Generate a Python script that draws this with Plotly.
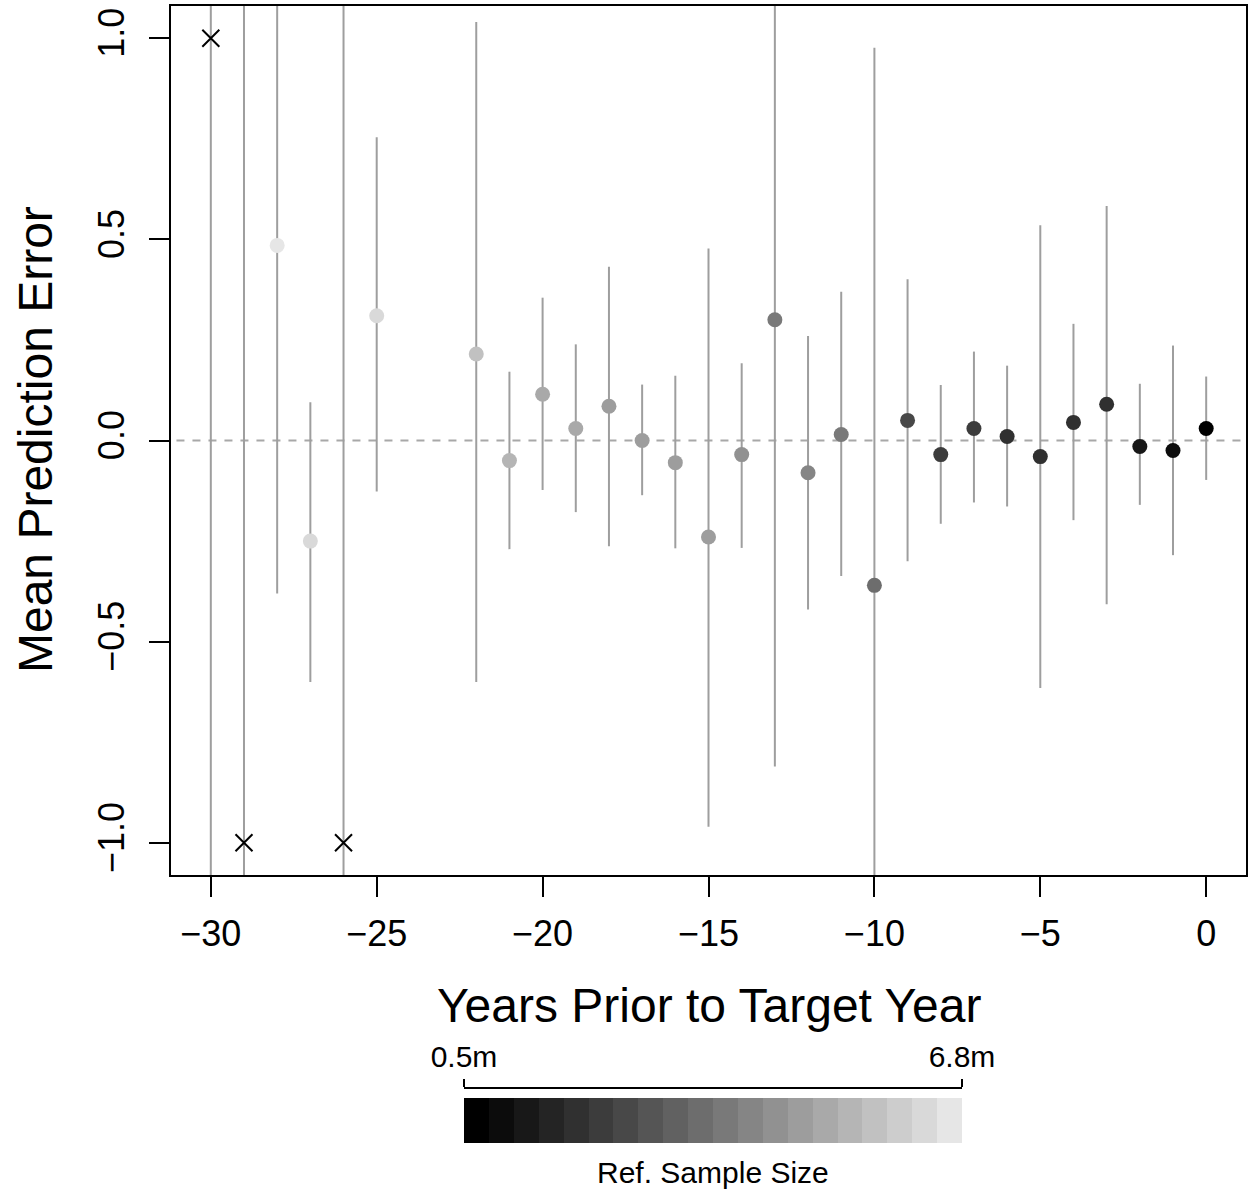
import plotly.graph_objects as go

# Years before the target year
years = [-30, -29, -28, -27, -26, -25, -22, -21, -20, -19, -18, -17, -16, -15,
         -14, -13, -12, -11, -10, -9, -8, -7, -6, -5, -4, -3, -2, -1, 0]
# Mean prediction error (off-scale means are pinned to the axis limit)
mean_err = [1.0, -1.0, 0.485, -0.25, -1.0, 0.31, 0.215, -0.05, 0.115, 0.03, 0.085,
            0.0, -0.055, -0.24, -0.035, 0.30, -0.08, 0.015, -0.36, 0.05, -0.035,
            0.03, 0.01, -0.04, 0.045, 0.09, -0.015, -0.025, 0.03]
# Interval bounds
err_lo = [-1.5, -1.5, -0.38, -0.60, -1.5, -0.127, -0.60, -0.27, -0.123, -0.178, -0.263,
          -0.136, -0.268, -0.96, -0.267, -0.81, -0.42, -0.337, -1.5, -0.30, -0.207,
          -0.154, -0.164, -0.615, -0.198, -0.407, -0.16, -0.285, -0.098]
err_hi = [1.5, 1.5, 1.5, 0.095, 1.5, 0.754, 1.04, 0.171, 0.355, 0.239, 0.432,
          0.139, 0.161, 0.477, 0.192, 1.5, 0.26, 0.37, 0.976, 0.401, 0.138,
          0.221, 0.186, 0.535, 0.29, 0.583, 0.141, 0.236, 0.159]
# Whether the mean fell outside the displayed range
off_scale = [True, True, False, False, True, False, False, False, False, False, False,
             False, False, False, False, False, False, False, False, False, False,
             False, False, False, False, False, False, False, False]
# Reference sample size (millions)
ref_sample_m = [6.8, 6.8, 6.8, 6.47, 6.8, 6.47, 5.97, 5.47, 5.3, 5.14, 4.81,
                4.81, 4.81, 4.81, 4.48, 3.82, 4.15, 3.82, 3.48, 2.49, 2.16,
                2.16, 1.83, 1.83, 1.83, 1.83, 1.16, 0.83, 0.5]

n_levels = 20
size_min, size_max = 0.5, 6.8
size_labels = ["0.5m", "6.8m"]


def gray_hex(level):
    v = round(level / (n_levels - 1) * 0.9 * 255)
    return "#{0:02x}{0:02x}{0:02x}".format(v)


def size_level(n):
    return int(round((n - size_min) / (size_max - size_min) * (n_levels - 1)))


W, H = 1248, 1192
FONT = "Liberation Sans, Arial, Helvetica, sans-serif"

fig = go.Figure()

# zero reference line
fig.add_trace(go.Scatter(
    x=[-32, 2], y=[0, 0], mode="lines",
    line=dict(color="#a8a8a8", width=2, dash="8px,8px"),
    hoverinfo="skip", showlegend=False))

# interval segments
seg_x, seg_y = [], []
for x, lo, hi in zip(years, err_lo, err_hi):
    seg_x += [x, x, None]
    seg_y += [lo, hi, None]
fig.add_trace(go.Scatter(
    x=seg_x, y=seg_y, mode="lines",
    line=dict(color="#9e9e9e", width=2),
    hoverinfo="skip", showlegend=False))

# means, shaded by reference sample size
in_x = [x for x, o in zip(years, off_scale) if not o]
in_y = [y for y, o in zip(mean_err, off_scale) if not o]
in_c = [gray_hex(size_level(n)) for n, o in zip(ref_sample_m, off_scale) if not o]
fig.add_trace(go.Scatter(
    x=in_x, y=in_y, mode="markers",
    marker=dict(size=15, color=in_c, line=dict(width=0)),
    showlegend=False))

# off-scale means
out_x = [x for x, o in zip(years, off_scale) if o]
out_y = [y for y, o in zip(mean_err, off_scale) if o]
fig.add_trace(go.Scatter(
    x=out_x, y=out_y, mode="markers",
    marker=dict(symbol="x-thin", size=17, color="black",
                line=dict(color="black", width=2)),
    showlegend=False))

# sample-size colour key
levels = list(range(n_levels))
scale = [[i / (n_levels - 1), gray_hex(i)] for i in levels]
fig.add_trace(go.Heatmap(
    z=[[i / (n_levels - 1) for i in levels]], x=levels, y=[0],
    colorscale=scale, zmin=0, zmax=1, showscale=False,
    xaxis="x2", yaxis="y2", hoverinfo="skip"))


def px_x(p):
    return p / W


def px_y(p):
    return (H - p) / H


fig.update_layout(
    width=W, height=H,
    margin=dict(l=0, r=0, t=0, b=0, autoexpand=False),
    paper_bgcolor="white", plot_bgcolor="white",
    font=dict(family=FONT, color="black"),
    xaxis=dict(
        domain=[px_x(171), px_x(1246)], range=[-31.2, 1.2],
        tickvals=[-30, -25, -20, -15, -10, -5, 0],
        ticks="outside", ticklen=20, tickwidth=2, tickcolor="black",
        showline=True, linecolor="black", linewidth=2, mirror=True,
        showgrid=False, zeroline=False, automargin=False,
        tickfont=dict(size=36, family=FONT), ticklabelstandoff=6),
    yaxis=dict(
        domain=[px_y(875), px_y(6)], range=[-1.08, 1.08],
        tickvals=[-1.0, -0.5, 0.0, 0.5, 1.0],
        ticktext=["\u22121.0", "\u22120.5", "0.0", "0.5", "1.0"],
        tickangle=-90,
        ticks="outside", ticklen=20, tickwidth=2, tickcolor="black",
        showline=True, linecolor="black", linewidth=2, mirror=True,
        showgrid=False, zeroline=False, automargin=False,
        tickfont=dict(size=36, family=FONT), ticklabelstandoff=11),
    xaxis2=dict(
        domain=[px_x(464), px_x(962)], range=[-0.5, n_levels - 0.5],
        anchor="free", position=px_y(1088), side="top",
        tickvals=[-0.5, n_levels - 0.5], ticktext=size_labels,
        ticks="outside", ticklen=8, tickwidth=2, tickcolor="black",
        showline=True, linecolor="black", linewidth=2,
        showgrid=False, zeroline=False, automargin=False,
        tickfont=dict(size=30, family=FONT)),
    yaxis2=dict(
        domain=[px_y(1143), px_y(1098)], range=[-0.5, 0.5],
        anchor="x2", visible=False, automargin=False),
    annotations=[
        dict(text="Years Prior to Target Year", x=px_x(708.5), y=px_y(1005),
             xref="paper", yref="paper", xanchor="center", yanchor="middle",
             showarrow=False, font=dict(size=48, family=FONT)),
        dict(text="Mean Prediction Error", x=px_x(35), y=px_y(440),
             xref="paper", yref="paper", xanchor="center", yanchor="middle",
             textangle=-90, showarrow=False, font=dict(size=48, family=FONT)),
        dict(text="Ref. Sample Size", x=px_x(713), y=px_y(1172),
             xref="paper", yref="paper", xanchor="center", yanchor="middle",
             showarrow=False, font=dict(size=30, family=FONT)),
    ],
)

fig.write_html("out.html")
